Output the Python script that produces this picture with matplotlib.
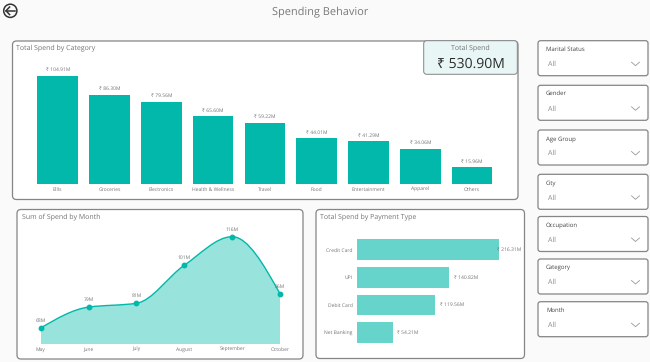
import matplotlib
matplotlib.use("Agg")
import matplotlib.pyplot as plt
from matplotlib.patches import FancyBboxPatch, PathPatch
from matplotlib.path import Path
import numpy as np

W, H = 650, 362
plt.rcParams['font.family'] = ['Open Sans', 'Noto Sans', 'DejaVu Sans']
plt.rcParams['text.hinting'] = 'none'
plt.rcParams['text.hinting_factor'] = 1

categories = ['Bills', 'Groceries', 'Electronics', 'Health & Wellness', 'Travel',
              'Food', 'Entertainment', 'Apparel', 'Others']
category_spend = [104.91, 86.30, 79.56, 65.60, 59.22, 44.01, 41.29, 34.06, 15.96]

months = ['May', 'June', 'July', 'August', 'September', 'October']
month_spend = [68, 79, 81, 101, 116, 86]

payment_types = ['Credit Card', 'UPI', 'Debit Card', 'Net Banking']
payment_spend = [216.31, 140.82, 119.56, 54.21]

slicers = ['Marital Status', 'Gender', 'Age Group', 'City', 'Occupation', 'Category', 'Month']
slicer_tops = [40.7, 85.3, 130, 174.3, 216.5, 259, 301.7]

TEAL = '#01b8aa'
LIGHT = '#67d4cb'
GREY = '#747474'
EDGE = '#858585'


def axes_px(left, top, right, bottom):
    return fig.add_axes([left / W, 1 - bottom / H, (right - left) / W, (bottom - top) / H])


def panel(left, top, right, bottom, face='white', r=4, lw=0.9):
    bg.add_patch(FancyBboxPatch((left + r, top + r), right - left - 2 * r, bottom - top - 2 * r,
                                boxstyle=f'round,pad={r},rounding_size={r}',
                                fc=face, ec=EDGE, lw=lw))


def clean(ax):
    ax.patch.set_alpha(0)
    for s in ax.spines.values():
        s.set_visible(False)


def monotone_path(x, y):
    # same curve type as the smooth line in the dashboard
    x = np.asarray(x, float)
    y = np.asarray(y, float)
    sl = np.diff(y) / np.diff(x)
    t = np.zeros(len(x))
    for i in range(1, len(x) - 1):
        if sl[i - 1] * sl[i] > 0:
            t[i] = 2 * sl[i - 1] * sl[i] / (sl[i - 1] + sl[i])
    t[0] = (3 * sl[0] - t[1]) / 2
    t[-1] = (3 * sl[-1] - t[-2]) / 2
    verts = [(x[0], y[0])]
    codes = [Path.MOVETO]
    for i in range(len(x) - 1):
        h = x[i + 1] - x[i]
        verts += [(x[i] + h / 3, y[i] + t[i] * h / 3),
                  (x[i + 1] - h / 3, y[i + 1] - t[i + 1] * h / 3),
                  (x[i + 1], y[i + 1])]
        codes += [Path.CURVE4] * 3
    return verts, codes


fig = plt.figure(figsize=(W / 100, H / 100), dpi=100, facecolor='#fafafa')
bg = fig.add_axes([0, 0, 1, 1])
bg.set_xlim(0, W)
bg.set_ylim(H, 0)
bg.axis('off')

# header
bg.text(320, 12, 'Spending Behavior', fontsize=7.7, color='#7a7a7a', ha='center', va='center')
bg.add_patch(plt.Circle((10.3, 10.8), 6.6, fc='none', ec='#333333', lw=1.1))
bg.plot([14.5, 6], [10.8, 10.8], color='#333333', lw=1.1)
bg.plot([9.6, 6, 9.6], [7, 10.8, 14.6], color='#333333', lw=1.1)

# panels
panel(12.5, 41, 518, 199.5)
panel(17, 209.5, 303, 359)
panel(316, 209.5, 524.5, 358.5)
panel(423.7, 40.7, 517.3, 74.3, face='#e8f6f5', r=3, lw=0.7)

bg.text(16.5, 48.5, 'Total Spend by Category', fontsize=5.3, color=GREY, va='center')
bg.text(21.5, 217.5, 'Sum of Spend by Month', fontsize=5.3, color=GREY, va='center')
bg.text(320.5, 217.5, 'Total Spend by Payment Type', fontsize=5.3, color=GREY, va='center')

bg.text(470.5, 48, 'Total Spend', fontsize=4.7, color=GREY, ha='center', va='center')
bg.text(471, 64, '₹ 530.90M', fontsize=10, color='#2b2b2b', ha='center', va='center')

# slicers
for name, top in zip(slicers, slicer_tops):
    panel(538, top, 648, top + 35, r=2.5)
    bg.text(546, top + 8.5, name, fontsize=4.4, color='#444444', va='center')
    bg.text(548, top + 23.5, 'All', fontsize=4.8, color='#8a8a8a', va='center')
    bg.plot([631.5, 635.5, 639.5], [top + 21.5, top + 25, top + 21.5], color='#9a9a9a', lw=0.6)

# category bars
ax1 = axes_px(31.8, 75.5, 498, 184)
clean(ax1)
ax1.bar(range(len(categories)), category_spend, width=0.78, color=TEAL)
ax1.set_xlim(-0.5, len(categories) - 0.5)
ax1.set_ylim(0, max(category_spend))
ax1.set_yticks([])
ax1.set_xticks(range(len(categories)), categories)
ax1.tick_params(axis='x', length=0, pad=2.5, labelsize=3.7, labelcolor=GREY)
for i, v in enumerate(category_spend):
    ax1.annotate(f'₹ {v:.2f}M', (i, v), xytext=(0, 2.5), textcoords='offset points',
                 ha='center', va='bottom', fontsize=3.7, color=GREY, annotation_clip=False)

# month area
ax2 = axes_px(40.7, 236.7, 280, 344)
clean(ax2)
xs = list(range(len(months)))
verts, codes = monotone_path(xs, month_spend)
base = 59.6
ax2.add_patch(PathPatch(Path(verts + [(xs[-1], base), (xs[0], base), verts[0]],
                             codes + [Path.LINETO, Path.LINETO, Path.CLOSEPOLY]),
                        fc='#99e3dd', ec='none'))
ax2.add_patch(PathPatch(Path(verts, codes), fc='none', ec=TEAL, lw=1.0, clip_on=False))
ax2.plot(xs, month_spend, 'o', ms=3.2, color=TEAL, clip_on=False)
ax2.set_xlim(0, len(months) - 1)
ax2.set_ylim(base, max(month_spend))
ax2.set_yticks([])
ax2.set_xticks(xs, months)
ax2.tick_params(axis='x', length=0, pad=2.5, labelsize=3.8, labelcolor=GREY)
for x, v in zip(xs, month_spend):
    ax2.annotate(f'{v}M', (x, v), xytext=(0, 3.5), textcoords='offset points',
                 ha='center', va='bottom', fontsize=3.9, color=GREY, annotation_clip=False)

# payment bars
ax3 = axes_px(357, 236, 499, 346.4)
clean(ax3)
ys = range(len(payment_types))
ax3.barh(ys, payment_spend, height=0.76, color=LIGHT)
ax3.set_xlim(0, max(payment_spend))
ax3.set_ylim(len(payment_types) - 0.5, -0.5)
ax3.set_xticks([])
ax3.set_yticks(ys, payment_types)
ax3.tick_params(axis='y', length=0, pad=3, labelsize=3.8, labelcolor=GREY)
for y, v in zip(ys, payment_spend):
    # longest bar: label gets pushed back over the bar end so it stays in the visual
    off = -1.5 if v == max(payment_spend) else 3.2
    ax3.annotate(f'₹ {v:.2f}M', (v, y), xytext=(off, 0), textcoords='offset points',
                 ha='left', va='center', fontsize=3.6, color=GREY, annotation_clip=False)

fig.savefig('out.png', dpi=100, facecolor=fig.get_facecolor())
